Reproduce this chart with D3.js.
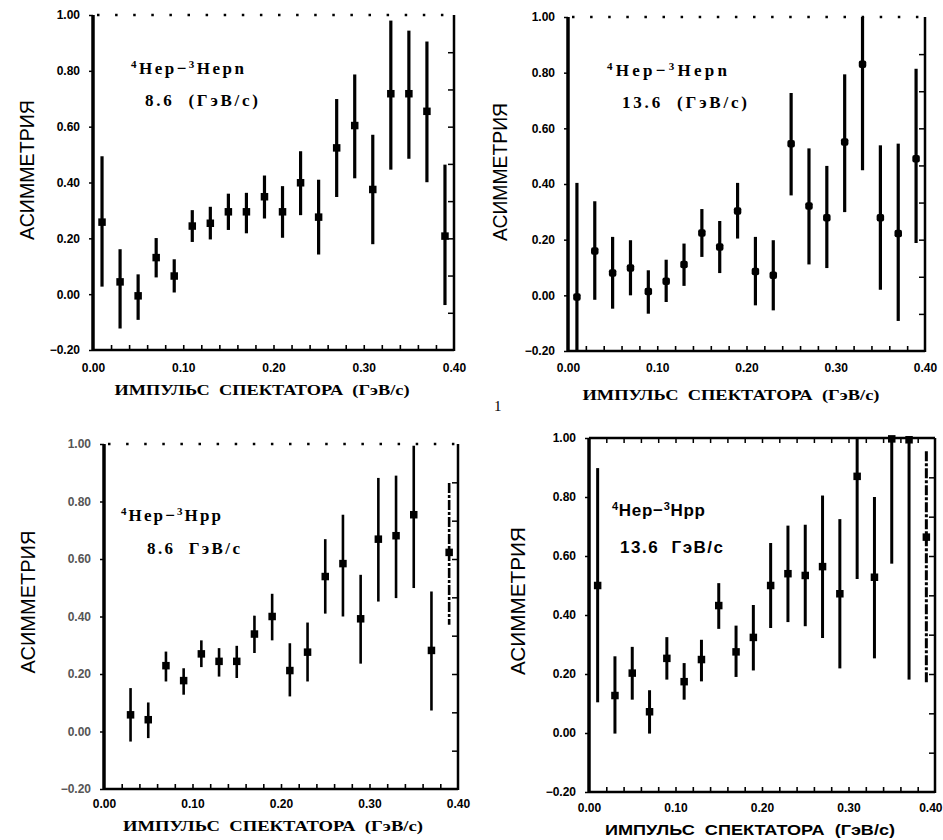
<!DOCTYPE html>
<html><head><meta charset="utf-8">
<script src="https://cdn.jsdelivr.net/npm/d3@7"></script>
<style>body{margin:0;background:#fff}</style>
</head><body>
<svg id="c" width="943" height="840"></svg>
<script>
// ---------- DATA ----------
const momentum = [0.01,0.03,0.05,0.07,0.09,0.11,0.13,0.15,0.17,0.19,0.21,0.23,0.25,0.27,0.29,0.31,0.33,0.35,0.37,0.39];
const momentumHpp86 = [0.03,0.05,0.07,0.09,0.11,0.13,0.15,0.17,0.19,0.21,0.23,0.25,0.27,0.29,0.31,0.33,0.35,0.37,0.39];

// 4He p -> 3He p n, 8.6 GeV/c
const asymHepn86 = [0.258,0.044,-0.006,0.131,0.065,0.244,0.254,0.295,0.295,0.349,0.295,0.399,0.276,0.524,0.604,0.375,0.718,0.718,0.655,0.208];
const hiHepn86   = [0.494,0.161,0.071,0.201,0.125,0.301,0.313,0.360,0.363,0.425,0.387,0.512,0.410,0.699,0.787,0.571,0.980,0.944,0.905,0.464];
const loHepn86   = [0.027,-0.123,-0.092,0.060,0.006,0.187,0.196,0.230,0.218,0.271,0.202,0.283,0.142,0.348,0.415,0.179,0.446,0.485,0.401,-0.039];

// 4He p -> 3He p n, 13.6 GeV/c
const asymHepn136 = [-0.006,0.159,0.080,0.098,0.014,0.051,0.111,0.224,0.174,0.303,0.086,0.072,0.545,0.321,0.279,0.551,0.830,0.279,0.222,0.491];
const hiHepn136   = [0.404,0.338,0.210,0.198,0.090,0.128,0.186,0.310,0.267,0.404,0.210,0.198,0.727,0.528,0.465,0.794,1.000,0.539,0.545,0.814];
const loHepn136   = [-0.200,-0.016,-0.048,0.000,-0.066,-0.024,0.034,0.138,0.080,0.204,-0.036,-0.054,0.359,0.111,0.098,0.299,0.449,0.020,-0.092,0.188];

// 4He p -> 3H p p, 8.6 GeV/c
const asymHpp86 = [0.058,0.041,0.229,0.177,0.270,0.244,0.244,0.339,0.400,0.212,0.276,0.539,0.584,0.392,0.669,0.681,0.754,0.282,0.623];
const hiHpp86   = [0.151,0.101,0.278,0.220,0.317,0.290,0.298,0.403,0.479,0.307,0.379,0.669,0.754,0.545,0.882,0.890,0.994,0.487,0.864];
const loHpp86   = [-0.035,-0.023,0.174,0.128,0.224,0.191,0.186,0.273,0.317,0.122,0.174,0.410,0.400,0.236,0.452,0.464,0.499,0.073,0.371];

// 4He p -> 3H p p, 13.6 GeV/c
const asymHpp136 = [0.500,0.127,0.203,0.072,0.253,0.174,0.249,0.432,0.275,0.324,0.500,0.540,0.534,0.564,0.472,0.870,0.528,0.997,0.994,0.664];
const hiHpp136   = [0.898,0.260,0.292,0.145,0.325,0.237,0.316,0.508,0.364,0.434,0.644,0.703,0.706,0.805,0.725,1.000,0.800,1.000,1.000,0.955];
const loHpp136   = [0.104,-0.002,0.113,-0.002,0.181,0.113,0.175,0.353,0.190,0.212,0.356,0.376,0.362,0.322,0.219,0.522,0.253,0.574,0.181,0.170];

const yTickValues = [-0.2,0.0,0.2,0.4,0.6,0.8,1.0];
const xTickValues = [0.0,0.1,0.2,0.3,0.4];
const xMinorTicks = [0.02,0.04,0.06,0.08,0.10,0.12,0.14,0.16,0.18,0.20,0.22,0.24,0.26,0.28,0.30,0.32,0.34,0.36,0.38];
const rightTicks  = [-0.0667,0.0667,0.2,0.3333,0.4667,0.6,0.7333,0.8667];

const yTitle = "АСИММЕТРИЯ";
const xTitle = "ИМПУЛЬС  СПЕКТАТОРА  (ГэВ/с)";
const reactionHepn = ["4","Hep−","3","Hepn"];
const reactionHpp  = ["4","Hep−","3","Hpp"];

// ---------- DRAW ----------
const svg = d3.select("#c");
svg.append("rect").attr("width",943).attr("height",840).attr("fill","#fff");
const fmt = d3.format(".2f");
const serif = "'Liberation Serif','DejaVu Serif',serif";
const sans = "'Liberation Sans','DejaVu Sans',Arial,sans-serif";

function panel(c){
  const x = d3.scaleLinear().domain([0,0.4]).range([c.x0,c.x1]);
  const y = d3.scaleLinear().domain([-0.2,1.0]).range([c.yb,c.yt]);
  const g = svg.append("g");
  const clampY = v => Math.max(-0.2, Math.min(1.0, v));

  // bottom minor ticks (inward)
  g.append("g").attr("transform",`translate(0,${c.yb})`)
    .call(d3.axisBottom(x).tickValues(xMinorTicks).tickSize(-5).tickFormat(""))
    .call(a=>a.select(".domain").remove())
    .call(a=>a.selectAll("line").attr("stroke","#000").attr("stroke-width",1.6));
  // bottom labels
  g.append("g").attr("transform",`translate(0,${c.yb})`)
    .call(d3.axisBottom(x).tickValues(xTickValues).tickSize(0).tickPadding(c.xpad).tickFormat(fmt))
    .call(a=>a.select(".domain").remove())
    .call(a=>a.selectAll("text").attr("font-family",sans).attr("font-weight","bold").attr("font-size",12).attr("fill","#000"))
    .call(a=>{ if (c.lastEnd) a.selectAll(".tick").filter(d=>d===0.4).select("text").attr("text-anchor","end").attr("x",7); });
  // left axis
  g.append("g").attr("transform",`translate(${c.x0},0)`)
    .call(d3.axisLeft(y).tickValues(yTickValues).tickSize(4).tickPadding(9).tickFormat(fmt))
    .call(a=>a.select(".domain").remove())
    .call(a=>a.selectAll("line").attr("stroke","#000").attr("stroke-width",1.5))
    .call(a=>a.selectAll("text").attr("font-family",sans).attr("font-weight","bold").attr("font-size",12).attr("fill", c.faint ? "#555" : "#000"));
  // right axis ticks (inward)
  g.append("g").attr("transform",`translate(${c.x1},0)`)
    .call(d3.axisRight(y).tickValues(rightTicks).tickSize(-6).tickFormat(""))
    .call(a=>a.select(".domain").remove())
    .call(a=>a.selectAll("line").attr("stroke","#000").attr("stroke-width",1.5));

  // frame lines
  g.append("line").attr("x1",c.x0).attr("x2",c.x0).attr("y1",y(1.0)).attr("y2",c.yb+1)
    .attr("stroke","#000").attr("stroke-width",3.5);
  g.append("line").attr("x1",c.x0).attr("x2",c.x1).attr("y1",c.yb).attr("y2",c.yb)
    .attr("stroke","#000").attr("stroke-width",2.5);
  g.append("line").attr("x1",c.x1).attr("x2",c.x1).attr("y1",y(1.0)).attr("y2",c.yb+1)
    .attr("stroke","#000").attr("stroke-width",2.5);
  if (c.solidTop){
    g.append("line").attr("x1",c.x0).attr("x2",c.x1).attr("y1",y(1.0)).attr("y2",y(1.0))
      .attr("stroke","#000").attr("stroke-width",2.5);
    g.append("g").attr("transform",`translate(0,${y(1.0)})`)
      .call(d3.axisTop(x).tickValues(xMinorTicks).tickSize(-5).tickFormat(""))
      .call(a=>a.select(".domain").remove())
      .call(a=>a.selectAll("line").attr("stroke","#000").attr("stroke-width",1.5));
  } else {
    g.append("line").attr("x1",c.x0).attr("x2",c.x1).attr("y1",y(1.0)).attr("y2",y(1.0))
      .attr("stroke","#000").attr("stroke-width",2.5).attr("stroke-dasharray","2.5,15.6")
      .attr("stroke-dashoffset",-4);
  }

  // error bars
  g.selectAll(".eb").data(c.xs).join("line")
    .attr("x1",(d,i)=>x(d)).attr("x2",(d,i)=>x(d))
    .attr("y1",(d,i)=>y(clampY(c.hi[i]))).attr("y2",(d,i)=>y(clampY(c.lo[i])))
    .attr("stroke","#000").attr("stroke-width",c.bw)
    .attr("stroke-dasharray",(d,i)=> (c.dashIdx && c.dashIdx.includes(i)) ? "10,2,3,2" : null);
  // markers
  const m = c.ms;
  g.selectAll(".mk").data(c.xs).join("rect")
    .attr("x",d=>x(d)-m/2).attr("y",(d,i)=>y(c.val[i])-m/2)
    .attr("width",m).attr("height",m).attr("rx",c.round||0)
    .attr("fill","#000");

  // titles
  g.append("text").attr("x",c.xtx).attr("y",c.xty).attr("text-anchor","middle")
    .attr("font-family",c.titleFont).attr("font-weight","bold").attr("font-size",15)
    .attr("textLength",c.xtl).attr("lengthAdjust","spacingAndGlyphs")
    .attr("xml:space","preserve").style("white-space","pre")
    .text(xTitle);
  g.append("text").attr("transform",`translate(${c.ytx},${c.yty}) rotate(-90)`)
    .attr("text-anchor","middle").attr("font-family",sans).attr("font-size",21)
    .attr("textLength",c.ytl).attr("lengthAdjust","spacingAndGlyphs")
    .text(yTitle);

  // reaction annotation
  const t = g.append("text").attr("x",c.ax).attr("y",c.ay)
    .attr("font-family",c.annFont).attr("font-weight","bold").attr("font-size",17)
    .attr("textLength",c.al).attr("lengthAdjust","spacing");
  t.append("tspan").attr("font-size",11).attr("dy",-6).text(c.reaction[0]);
  t.append("tspan").attr("dy",6).text(c.reaction[1]);
  t.append("tspan").attr("font-size",11).attr("dy",-6).text(c.reaction[2]);
  t.append("tspan").attr("dy",6).text(c.reaction[3]);
  g.append("text").attr("x",c.bx).attr("y",c.by)
    .attr("font-family",c.annFont).attr("font-weight","bold").attr("font-size",17)
    .attr("textLength",c.bl).attr("lengthAdjust","spacing")
    .attr("xml:space","preserve").style("white-space","pre")
    .text(c.energy);
}

panel({x0:93,x1:454,yt:15,yb:350,xpad:13,xs:momentum,val:asymHepn86,hi:hiHepn86,lo:loHepn86,
  bw:3.2,ms:7.5,xtx:262,xty:395,xtl:295,ytx:34,yty:170,ytl:140,titleFont:serif,annFont:serif,
  reaction:reactionHepn,ax:131,ay:74,al:113,energy:"8.6  (ГэВ/с)",bx:145,by:106,bl:113});
panel({x0:568,x1:925,yt:17,yb:351,xpad:12,xs:momentum,val:asymHepn136,hi:hiHepn136,lo:loHepn136,
  bw:3.2,ms:7.5,round:2,xtx:731,xty:400,xtl:297,ytx:507,yty:172,ytl:138,titleFont:serif,annFont:serif,
  reaction:reactionHepn,ax:607,ay:76,al:120,energy:"13.6  (ГэВ/с)",bx:622,by:108,bl:125});
panel({x0:104,x1:458,yt:444,yb:789,xpad:10,xs:momentumHpp86,val:asymHpp86,hi:hiHpp86,lo:loHpp86,
  bw:2.6,ms:7.5,faint:true,dashIdx:[18],xtx:273,xty:831,xtl:300,ytx:35,yty:602,ytl:143,titleFont:serif,annFont:serif,
  reaction:reactionHpp,ax:121,ay:521,al:100,energy:"8.6  ГэВ/с",bx:147,by:554,bl:93});
panel({x0:589,x1:935,yt:438,yb:792,xpad:11,solidTop:true,lastEnd:true,xs:momentum,val:asymHpp136,hi:hiHpp136,lo:loHpp136,
  bw:3,ms:7.5,dashIdx:[19],xtx:750,xty:835,xtl:290,ytx:525,yty:601,ytl:148,titleFont:sans,annFont:sans,
  reaction:reactionHpp,ax:612,ay:516,al:93,energy:"13.6  ГэВ/с",bx:620,by:553,bl:103});

svg.append("text").attr("x",494).attr("y",411).attr("font-family",serif).attr("font-size",15).text("1");
</script>
</body></html>
